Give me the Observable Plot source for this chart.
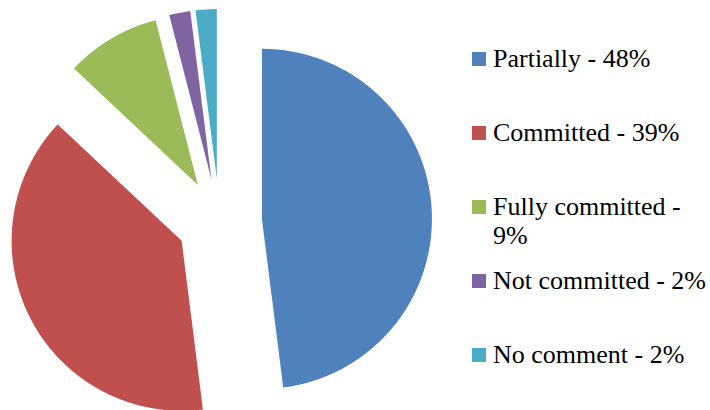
<!DOCTYPE html>
<html>
<head>
<meta charset="utf-8">
<script src="https://cdn.jsdelivr.net/npm/d3@7"></script>
<script src="https://cdn.jsdelivr.net/npm/@observablehq/plot@0.6"></script>
<style>
  html, body { margin: 0; padding: 0; background: #fff; }
  #wrap { position: relative; width: 710px; height: 410px; overflow: hidden; }
  #wrap svg { position: absolute; left: 0; top: 0; }
  .item { position: absolute; left: 472px;
          font-family: "Liberation Serif", "Times New Roman", Times, serif;
          font-size: 26px; line-height: 29px; color: #000; }
  .item .sw { position: absolute; left: 0; top: 8px; width: 14px; height: 14px; }
  .item .tx { position: absolute; left: 21px; top: 0; width: 218px; }
</style>
</head>
<body>
<div id="wrap"></div>
<script>
const categories = ["Partially", "Committed", "Fully committed", "Not committed", "No comment"];
const percents = [48, 39, 9, 2, 2];
const colors = ["#4F81BD", "#C0504D", "#9BBB59", "#8064A2", "#4BACC6"];

// layout constants
const W = 710, H = 410;
const R = 170;            // pie radius in px
const CX = 219, CY = 221; // pie center in px
const EXPLODE = 0.25;     // offset as fraction of radius

const arcs = d3.pie().sort(null).value(d => d)(percents);
const pts = [];
arcs.forEach((a, i) => {
  const mid = (a.startAngle + a.endAngle) / 2;
  const ox = EXPLODE * Math.sin(mid), oy = EXPLODE * Math.cos(mid);
  const name = categories[i];
  pts.push({name, x: ox, y: oy});
  const n = Math.max(4, Math.ceil((a.endAngle - a.startAngle) / (Math.PI / 360)));
  for (let k = 0; k <= n; k++) {
    const t = a.startAngle + (a.endAngle - a.startAngle) * k / n;
    pts.push({name, x: ox + Math.sin(t), y: oy + Math.cos(t)});
  }
  pts.push({name, x: ox, y: oy});
});

const chart = Plot.plot({
  width: W, height: H,
  margin: 0,
  x: {domain: [-CX / R, (W - CX) / R], axis: null},
  y: {domain: [-(H - CY) / R, CY / R], axis: null},
  color: {domain: categories, range: colors},
  marks: [
    Plot.line(pts, {x: "x", y: "y", z: "name", fill: "name", stroke: null, curve: "linear"})
  ]
});
chart.style.background = "#fff";
const wrap = document.getElementById("wrap");
wrap.appendChild(chart);

const baseline0 = 67, step = 74;
categories.forEach((c, i) => {
  const item = document.createElement("div");
  item.className = "item";
  item.style.top = (baseline0 + step * i - 23.3) + "px";
  const sw = document.createElement("div");
  sw.className = "sw";
  sw.style.background = colors[i];
  const tx = document.createElement("div");
  tx.className = "tx";
  tx.textContent = `${c} - ${percents[i]}%`;
  item.appendChild(sw);
  item.appendChild(tx);
  wrap.appendChild(item);
});
</script>
</body>
</html>
